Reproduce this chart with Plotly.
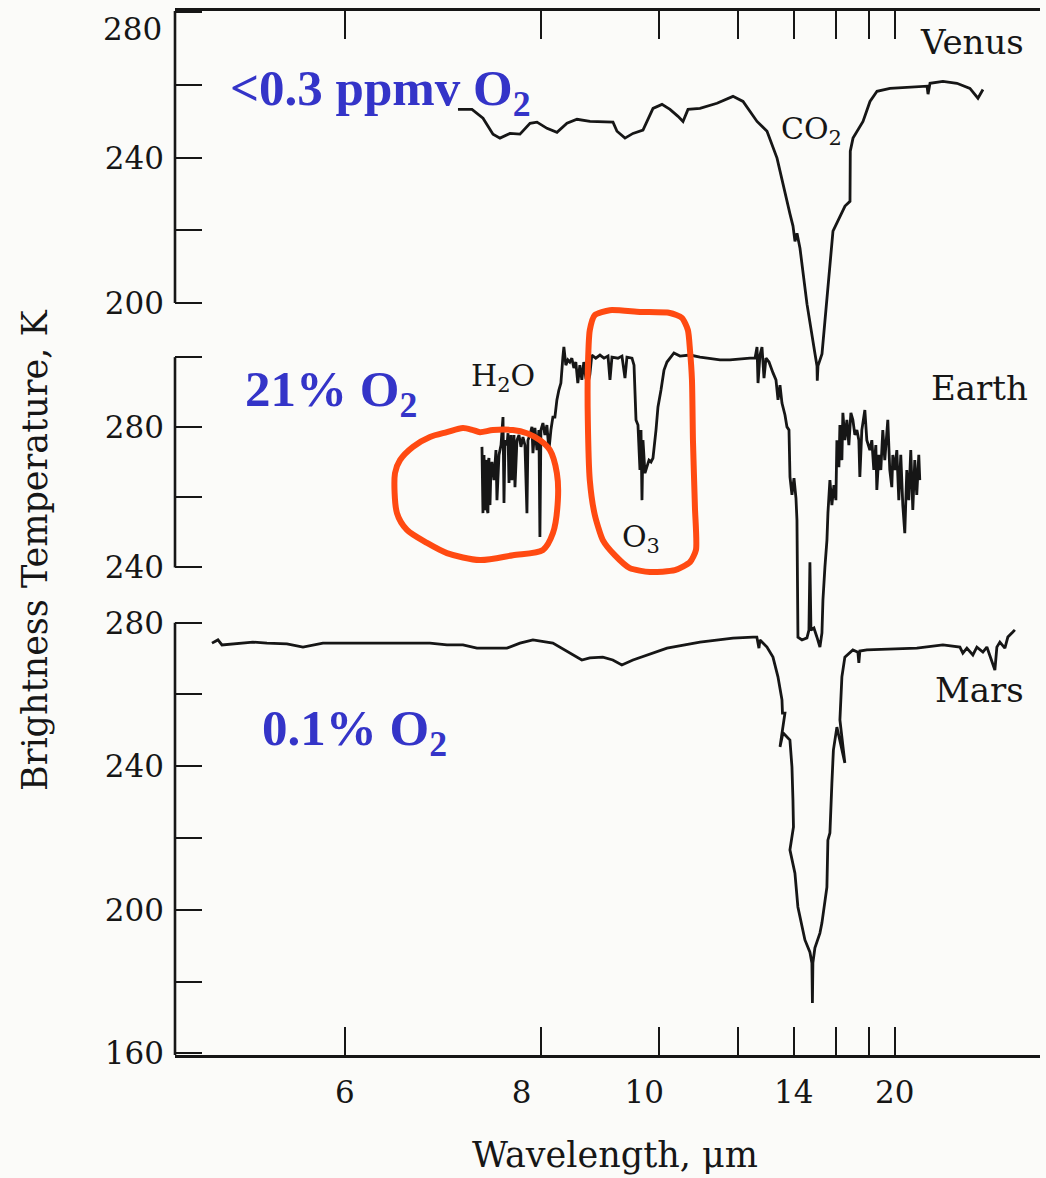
import plotly.graph_objects as go

# ---------------- data (wavenumber cm^-1, brightness temperature K) ----------------
venus_wn = [1426.6, 1396.9, 1373.5, 1352.3, 1337.5, 1316.3, 1295.1, 1273.8, 1259.0, 1237.8,
            1216.6, 1195.4, 1174.1, 1146.6, 1097.8, 1089.3, 1072.3, 1055.4, 1034.2, 1012.9,
            993.9, 976.9, 959.9, 949.3, 938.7, 913.3, 877.2, 843.3, 822.0, 792.3,
            771.1, 749.9, 722.3, 716.0, 711.8, 707.5, 701.2, 686.3, 669.3, 665.1,
            664.5, 663.0, 654.5, 643.9, 631.2, 605.7, 595.1, 594.5, 588.7, 567.5,
            552.7, 537.8, 510.3, 431.7, 429.6, 425.4, 398.0, 368.3, 340.7, 323.7, 313.1]
venus_tb = [253.3, 253.3, 250.9, 246.5, 245.4, 246.7, 246.5, 249.5, 249.8, 248.1,
            247.0, 249.5, 250.6, 250.0, 249.8, 247.3, 245.4, 246.7, 247.6, 253.6,
            254.7, 253.3, 251.4, 250.0, 253.3, 253.6, 255.0, 256.9, 255.5, 250.0,
            247.3, 239.9, 224.5, 221.2, 217.0, 219.2, 215.1, 199.7, 186.0, 182.7,
            178.6, 182.7, 186.0, 202.5, 219.8, 226.7, 228.0, 241.8, 245.4, 250.0,
            255.5, 258.3, 259.1, 259.7, 257.5, 260.5, 261.0, 260.5, 259.1, 256.4, 258.8]

earth_wn = [1375.7, 1374.6, 1373.6, 1372.5, 1371.4, 1369.3, 1367.2, 1366.1, 1365.1, 1364.0,
            1363.0, 1361.9, 1360.9, 1359.8, 1358.7, 1356.6, 1354.5, 1350.3,
            1346.0, 1343.9, 1339.6, 1335.3, 1331.1, 1329.0, 1326.9, 1322.6, 1320.5, 1318.4,
            1314.2, 1312.1, 1307.8, 1305.7, 1301.5, 1297.2, 1293.0, 1288.8, 1284.5, 1280.3,
            1278.2, 1273.9, 1269.7, 1267.6, 1263.4, 1259.1, 1254.9, 1252.8, 1250.7, 1246.4,
            1242.2, 1238.0, 1233.7, 1229.5, 1225.3, 1221.0, 1216.8, 1212.6, 1208.3, 1204.1,
            1202.0, 1197.8, 1193.5, 1189.3, 1185.1, 1180.8, 1176.6, 1172.4, 1168.1, 1163.9,
            1159.7, 1155.4, 1151.2, 1147.0, 1142.7, 1134.3, 1125.4, 1116.9, 1108.4, 1104.2,
            1100.0, 1087.3, 1078.8, 1072.4, 1068.2, 1057.5, 1053.2, 1049.0, 1044.8, 1040.6,
            1038.4, 1036.3, 1034.2, 1030.0, 1025.7, 1021.5, 1017.2, 1013.0, 1006.6, 1002.4,
            996.0, 989.6, 983.3, 977.0, 968.5, 955.8, 934.5, 913.3, 892.0, 870.8,
            849.6, 828.4, 807.2, 796.6, 792.3, 790.2, 786.0, 781.8, 777.5, 773.3,
            766.9, 758.4, 752.1, 747.8, 743.6, 739.4, 733.0, 728.8, 724.5, 722.4,
            718.2, 713.9, 709.7, 707.6, 706.5, 705.5, 697.0, 686.4, 682.2, 680.1,
            677.9, 671.6, 665.2, 658.9, 654.6, 652.5, 648.3, 644.0, 641.9, 637.7,
            633.5, 629.2, 625.0, 622.9, 618.6, 616.5, 612.3, 610.2, 605.9, 601.7,
            597.5, 593.2, 589.0, 584.8, 580.5, 576.3, 574.2, 570.0, 563.6, 559.4,
            553.0, 548.8, 544.6, 540.3, 538.2, 534.0, 529.7, 525.5, 521.3, 514.9,
            510.7, 506.4, 504.3, 500.1, 495.8, 491.6, 487.4, 483.1, 478.9, 474.6,
            470.4, 466.2, 461.9, 457.7, 453.5, 449.2, 447.1]
earth_tb = [274.4, 256.0, 255.5, 271.0, 272.1, 257.0, 256.4, 270.0, 270.6, 256.0,
            255.5, 270.5, 271.2, 258.5, 257.8, 268.5, 270.1, 264.9,
            273.5, 259.2, 272.1, 274.9, 282.9, 258.4, 276.3, 274.9, 278.3, 264.1,
            277.8, 264.9, 277.8, 262.9, 276.3, 277.8, 274.4, 277.2, 274.9, 255.5,
            276.3, 277.8, 280.1, 272.6, 279.8, 273.5, 279.2, 248.7, 279.2, 281.2,
            277.8, 280.6, 273.5, 279.2, 282.9, 282.9, 287.8, 290.6, 292.6, 300.0,
            302.9, 297.7, 299.2, 298.6, 299.7, 296.9, 298.6, 292.6, 297.7, 293.5,
            298.6, 294.0, 292.6, 294.9, 300.6, 299.7, 300.6, 299.7, 300.3, 293.5,
            300.0, 299.7, 300.3, 294.0, 300.0, 299.7, 297.7, 282.1, 280.6, 267.8,
            279.2, 259.2, 276.3, 266.9, 269.2, 270.6, 270.1, 271.2, 279.2, 285.8,
            290.6, 296.3, 298.6, 299.7, 301.2, 300.3, 300.6, 300.0, 299.7, 299.2,
            299.2, 299.5, 299.7, 299.7, 302.9, 292.6, 300.6, 302.9, 294.0, 299.7,
            298.6, 295.5, 293.5, 287.8, 292.0, 286.9, 283.5, 280.1, 279.2, 265.8,
            260.7, 265.5, 259.8, 253.5, 230.7, 220.1, 219.3, 219.9, 222.1, 241.5,
            222.1, 222.7, 220.1, 217.3, 221.3, 230.7, 240.1, 247.8, 255.5, 264.9,
            257.8, 263.5, 259.2, 276.3, 268.6, 280.6, 270.6, 284.1, 276.3, 282.1,
            274.9, 284.1, 282.1, 277.8, 279.2, 276.3, 265.8, 279.2, 284.9, 276.3,
            273.5, 276.3, 267.8, 274.9, 262.1, 272.1, 267.8, 279.2, 270.6, 282.1,
            267.8, 262.9, 272.1, 267.8, 273.5, 259.2, 272.1, 257.8, 249.8, 267.8,
            259.2, 273.5, 256.4, 270.6, 260.7, 272.1, 264.9]

mars_wn = [1948.4, 1935.7, 1927.2, 1895.4, 1861.5, 1831.8, 1789.4, 1755.4, 1734.2, 1713.0,
           1613.3, 1486.1, 1450.0, 1416.1, 1386.4, 1322.8, 1295.2, 1267.6, 1225.3, 1189.3,
           1163.9, 1146.9, 1119.4, 1098.2, 1079.0, 1055.4, 983.2, 913.3, 843.3, 800.9,
           792.7, 788.2, 786.1, 771.2, 758.5, 747.9, 739.4, 738.3, 733.1, 743.6,
           737.3, 722.5, 718.2, 716.1, 715.0, 722.5, 711.9, 705.6, 690.7, 680.1,
           675.9, 674.8, 673.8, 669.5, 658.9, 654.7, 644.1, 642.0, 637.7, 633.5,
           631.4, 630.3, 622.9, 606.0, 616.5, 612.3, 606.0, 589.0, 578.4, 576.3,
           574.2, 559.3, 453.3, 398.1, 362.0, 355.7, 347.2, 334.5, 326.0, 313.2,
           304.8, 287.8, 283.6, 277.2, 266.6, 260.3, 249.7, 245.4]
mars_tb = [274.3, 275.2, 273.8, 274.1, 274.6, 274.3, 274.1, 273.2, 273.8, 274.3,
           274.3, 274.3, 273.8, 273.8, 272.9, 272.9, 274.3, 275.2, 274.3, 271.5,
           269.6, 270.2, 270.4, 269.6, 268.2, 269.6, 272.9, 274.6, 275.7, 276.0,
           276.0, 272.9, 275.2, 273.2, 270.4, 264.9, 258.5, 254.8, 254.8, 245.4,
           249.3, 247.3, 239.8, 230.6, 223.1, 216.7, 210.2, 200.8, 191.6, 188.2,
           185.2, 174.0, 185.2, 189.4, 193.5, 196.3, 206.3, 219.4, 221.4, 235.3,
           239.8, 244.5, 250.9, 240.9, 252.9, 264.9, 270.4, 272.4, 271.8, 268.8,
           272.1, 272.4, 272.9, 273.8, 273.2, 271.5, 272.9, 271.0, 273.2, 271.8,
           273.2, 266.8, 273.2, 274.6, 272.9, 276.0, 277.4, 278.0]

# hand-drawn highlight loops (Earth panel coordinates)
h2o_loop_wn = [1549.6, 1560.2, 1556.0, 1534.8, 1492.4, 1450.0, 1380.0, 1310.0, 1246.4, 1225.2,
               1214.7, 1216.8, 1231.6, 1252.8, 1280.3, 1310.0, 1352.4, 1380.0, 1394.9, 1416.1,
               1450.0, 1486.0, 1522.1, 1549.6]
h2o_loop_tb = [270.6, 266.9, 255.5, 250.7, 247.0, 244.1, 242.1, 243.5, 245.0, 249.8,
               259.2, 266.9, 273.5, 276.3, 278.3, 279.2, 279.2, 278.6, 279.2, 279.8,
               278.6, 277.2, 274.4, 270.6]
o3_loop_wn = [1147.0, 1136.4, 1104.6, 1040.6, 977.0, 951.6, 938.9, 934.5, 930.3, 928.2,
              924.0, 921.8, 934.5, 966.4, 1019.4, 1062.2, 1094.0, 1119.4, 1136.4, 1147.0,
              1151.2, 1151.2, 1147.0]
o3_loop_tb = [307.7, 312.0, 313.4, 312.9, 312.6, 311.2, 307.7, 302.0, 293.5, 276.3,
              257.2, 245.0, 241.5, 239.2, 238.7, 239.8, 243.5, 247.8, 255.0, 264.9,
              282.1, 296.3, 307.7]

# axis ticks
NB = "\u00a0"
tick_um = [6, 8, 10, 12, 14, 16, 18, 20]
tick_um_text = ["6", "8" + NB * 4, "10" + NB * 3, "", "14", "", "", "20"]
venus_ticks = [200, 220, 240, 260, 280]
venus_ticktext = ["200", "", "240", "", ""]
venus_top_label = "280"
earth_ticks = [240, 260, 280, 300]
earth_ticktext = ["240", "", "280", ""]
mars_ticks = [160, 180, 200, 220, 240, 260, 280]
mars_ticktext = ["160", "", "200", "", "240", "", "280"]

# axis ranges
x_range = [2026.8, 192.1]
venus_range = [-7.0, 280.4]
earth_range = [100.9, 398.75]
mars_range = [159.54, 450.43]

INK = "#161616"
BLUE = "#3434C8"
ORANGE = "#FF4A12"
SERIF = "DejaVu Serif"

fig = go.Figure()
line_style = dict(color=INK, width=2.8)
fig.add_trace(go.Scatter(x=venus_wn, y=venus_tb, mode="lines", line=line_style, yaxis="y"))
fig.add_trace(go.Scatter(x=earth_wn, y=earth_tb, mode="lines", line=line_style, yaxis="y2"))
fig.add_trace(go.Scatter(x=mars_wn, y=mars_tb, mode="lines", line=line_style, yaxis="y3"))
fig.add_trace(go.Scatter(x=h2o_loop_wn, y=h2o_loop_tb, mode="lines", yaxis="y2",
                         line=dict(color=ORANGE, width=6, shape="spline", smoothing=0.8)))
fig.add_trace(go.Scatter(x=o3_loop_wn, y=o3_loop_tb, mode="lines", yaxis="y2",
                         line=dict(color=ORANGE, width=6, shape="spline", smoothing=0.6)))

tickfont = dict(family=SERIF, size=31, color=INK)
yax_common = dict(showgrid=False, zeroline=False, showline=False, ticks="inside",
                  ticklen=27, tickwidth=2.2, tickcolor=INK, tickfont=tickfont,
                  tickmode="array", ticklabelstandoff=10, anchor="x", side="left")

fig.update_layout(
    width=1046, height=1178,
    margin=dict(l=175, r=6, t=11, b=123),
    paper_bgcolor="#fbfbf9", plot_bgcolor="#fbfbf9",
    showlegend=False,
    xaxis=dict(range=x_range, showgrid=False, zeroline=False, showline=True,
               linecolor=INK, linewidth=2.6, mirror="ticks", ticks="inside",
               ticklen=28, tickwidth=2.2, tickcolor=INK, tickmode="array",
               tickvals=[1e4 / w for w in tick_um], ticktext=tick_um_text,
               tickfont=tickfont, ticklabelstandoff=8),
    yaxis=dict(range=venus_range, tickvals=venus_ticks, ticktext=venus_ticktext, **yax_common),
    yaxis2=dict(range=earth_range, tickvals=earth_ticks, ticktext=earth_ticktext,
                overlaying="y", **yax_common),
    yaxis3=dict(range=mars_range, tickvals=mars_ticks, ticktext=mars_ticktext,
                overlaying="y", **yax_common),
)

# left axis segments for each panel
seg = dict(type="line", xref="paper", x0=0, x1=0, line=dict(color=INK, width=2.6))
fig.add_shape(yref="y", y0=venus_ticks[0], y1=venus_range[1], **seg)
fig.add_shape(yref="y2", y0=earth_ticks[0], y1=earth_ticks[-1], **seg)
fig.add_shape(yref="y3", y0=mars_range[0], y1=mars_ticks[-1], **seg)

# top Venus tick label, set just below the frame corner as in the original
fig.add_annotation(text=venus_top_label, x=0, xref="paper", y=venus_ticks[-1], yref="y",
                   xanchor="right", yanchor="middle", xshift=-11, yshift=-17,
                   showarrow=False, font=tickfont)

def label(text, x, y, size=34, color=INK, family=SERIF, xanchor="center", **kw):
    fig.add_annotation(text=text, x=x, y=y, xref="paper", yref="paper", showarrow=False,
                       xanchor=xanchor, yanchor="middle",
                       font=dict(family=family, size=size, color=color), **kw)

label("Venus", 0.9214, 0.9703, size=34)
label("Earth", 0.9306, 0.6389, size=34)
label("Mars", 0.9295, 0.3496, size=34)
label("CO<sub>2</sub>", 0.7364, 0.886, size=30)
label("H<sub>2</sub>O", 0.3792, 0.6485, size=30)
label("O<sub>3</sub>", 0.5387, 0.4952, size=30)

bold_font = "Liberation Serif"
label("<b>&lt;0.3 ppmv O<sub>2</sub></b>", 0.0613, 0.9224, size=51, color=BLUE,
      family=bold_font, xanchor="left")
label("<b>21% O<sub>2</sub></b>", 0.0786, 0.634, size=51, color=BLUE,
      family=bold_font, xanchor="left")
label("<b>0.1% O<sub>2</sub></b>", 0.0983, 0.3094, size=51, color=BLUE,
      family=bold_font, xanchor="left")

label("Brightness Temperature, K", -0.1618, 0.4837, size=35, textangle=-90)
label("Wavelength, \u03bcm", 0.5087, -0.0958, size=35)

fig.write_html("out.html")
